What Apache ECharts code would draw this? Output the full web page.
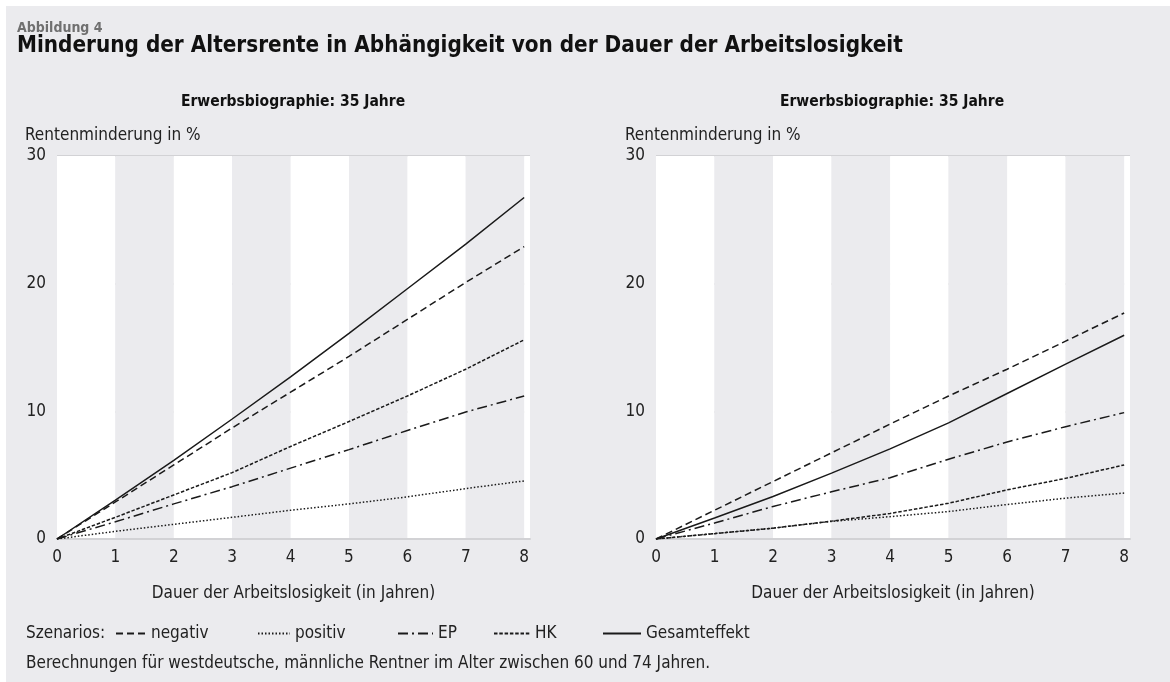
<!DOCTYPE html>
<html>
<head>
<meta charset="utf-8">
<script src="https://cdn.jsdelivr.net/npm/echarts@6/dist/echarts.min.js"></script>
<style>
  html, body { margin: 0; padding: 0; background: #fff; }
  #chart { width: 1170px; height: 682px; }
</style>
</head>
<body>
<div id="chart"></div>
<script>
// Dauer der Arbeitslosigkeit (Jahre)
const years = [0, 1, 2, 3, 4, 5, 6, 7, 8];
const xTicks = ['0', '1', '2', '3', '4', '5', '6', '7', '8'];
const yTicks = ['0', '10', '20', '30'];

// linkes Diagramm
const leftNegativ = [0, 2.9, 5.8, 8.7, 11.5, 14.3, 17.2, 20.1, 22.9];
const leftPositiv = [0, 0.6, 1.15, 1.7, 2.25, 2.75, 3.3, 3.95, 4.55];
const leftEP = [0, 1.35, 2.75, 4.1, 5.55, 7.0, 8.5, 9.95, 11.2];
const leftHK = [0, 1.7, 3.45, 5.2, 7.25, 9.2, 11.2, 13.3, 15.6];
const leftGesamt = [0, 3.05, 6.15, 9.4, 12.7, 16.1, 19.6, 23.1, 26.75];

// rechtes Diagramm
const rightNegativ = [0, 2.25, 4.5, 6.75, 9.0, 11.2, 13.3, 15.5, 17.7];
const rightPositiv = [0, 0.43, 0.85, 1.38, 1.75, 2.15, 2.7, 3.2, 3.6];
const rightEP = [0, 1.25, 2.55, 3.7, 4.8, 6.25, 7.6, 8.8, 9.9];
const rightHK = [0, 0.42, 0.85, 1.4, 2.0, 2.8, 3.85, 4.75, 5.8];
const rightGesamt = [0, 1.65, 3.33, 5.16, 7.06, 9.1, 11.4, 13.7, 15.96];

const FONT = "'Liberation Sans Narrow', 'DejaVu Sans Condensed', 'Roboto', sans-serif";
const INK = '#1a1a1a';
const TXT = '#222';
const BG = '#ebebee';

// Strichmuster je Szenario
const dashes = {
    negativ: [7, 4],
    positiv: [1.5, 2],
    EP: [10, 4, 2, 4],
    HK: [3.5, 1.8],
    Gesamteffekt: 'solid'
};

const pairs = (vals) => years.map((x, i) => [x, vals[i]]);

function makeSeries(name, vals, idx) {
    return {
        name: name,
        type: 'line',
        xAxisIndex: idx,
        yAxisIndex: idx,
        symbol: 'none',
        showSymbol: false,
        color: INK,
        lineStyle: { color: INK, width: 1.5, type: dashes[name] },
        data: pairs(vals)
    };
}

function xAxisCfg(idx) {
    return {
        type: 'value',
        gridIndex: idx,
        min: 0,
        max: 8.1,
        interval: 1,
        name: 'Dauer der Arbeitslosigkeit (in Jahren)',
        nameLocation: 'middle',
        nameGap: 46,
        nameTextStyle: { fontFamily: FONT, fontSize: 17, color: TXT },
        axisLine: { show: true, lineStyle: { color: '#d2d2d5', width: 2 } },
        axisTick: { show: false },
        axisLabel: {
            showMaxLabel: false,
            margin: 10,
            fontFamily: FONT, fontSize: 17, color: TXT,
            formatter: (v) => Number.isInteger(v) && xTicks[v] !== undefined ? xTicks[v] : ''
        },
        splitLine: { show: false },
        splitArea: { show: true, areaStyle: { color: ['#ffffff', BG] } }
    };
}

function yAxisCfg(idx) {
    return {
        type: 'value',
        gridIndex: idx,
        min: 0,
        max: 30,
        interval: 10,
        axisLine: { show: false },
        axisTick: { show: false },
        axisLabel: {
            margin: 11,
            fontFamily: FONT, fontSize: 17, color: TXT,
            formatter: (v) => yTicks[v / 10]
        },
        splitLine: { show: true, lineStyle: { color: '#d2d2d5', width: 2 } }
    };
}

// eine Legende je Szenario, damit die Abstände wie im Original sitzen
const legends = [
    { name: 'negativ', left: 115, w: 30 },
    { name: 'positiv', left: 257, w: 32 },
    { name: 'EP', left: 397, w: 35 },
    { name: 'HK', left: 493, w: 36 },
    { name: 'Gesamteffekt', left: 602, w: 38 }
].map((l) => ({
    left: l.left,
    top: 625,
    padding: 0,
    itemWidth: l.w,
    itemHeight: 14,
    selectedMode: false,
    itemStyle: { color: 'rgba(0,0,0,0)', borderWidth: 0, opacity: 0 },
    data: [l.name],
    textStyle: { fontFamily: FONT, fontSize: 17, color: TXT }
}));

const chart = echarts.init(document.getElementById('chart'), null, { renderer: 'canvas' });

const option = {
    backgroundColor: '#ffffff',
    animation: false,
    title: [
        {
            text: 'Abbildung 4',
            left: 17, top: 21, padding: 0,
            textStyle: { fontFamily: FONT, fontSize: 14, fontWeight: 'bold', color: '#707070' }
        },
        {
            text: 'Minderung der Altersrente in Abhängigkeit von der Dauer der Arbeitslosigkeit',
            left: 17, top: 35, padding: 0,
            textStyle: { fontFamily: FONT, fontSize: 22.3, fontWeight: 'bold', color: '#111' }
        },
        {
            text: 'Erwerbsbiographie: 35 Jahre',
            left: 293, top: 94, padding: 0, textAlign: 'center',
            textStyle: { fontFamily: FONT, fontSize: 15.5, fontWeight: 'bold', color: '#111' }
        },
        {
            text: 'Erwerbsbiographie: 35 Jahre',
            left: 892, top: 94, padding: 0, textAlign: 'center',
            textStyle: { fontFamily: FONT, fontSize: 15.5, fontWeight: 'bold', color: '#111' }
        },
        {
            text: 'Szenarios:',
            left: 26, top: 625, padding: 0,
            textStyle: { fontFamily: FONT, fontSize: 17, fontWeight: 'normal', color: TXT }
        },
        {
            text: 'Berechnungen für westdeutsche, männliche Rentner im Alter zwischen 60 und 74 Jahren.',
            left: 26, top: 655, padding: 0,
            textStyle: { fontFamily: FONT, fontSize: 17, fontWeight: 'normal', color: TXT }
        }
    ],
    graphic: [
        { type: 'rect', left: 6, top: 6, z: -10, shape: { width: 1164, height: 676 }, style: { fill: BG } },
        { type: 'text', left: 25, top: 127, style: { text: 'Rentenminderung in %', font: '17px ' + FONT, fill: TXT } },
        { type: 'text', left: 625, top: 127, style: { text: 'Rentenminderung in %', font: '17px ' + FONT, fill: TXT } }
    ],
    legend: legends,
    grid: [
        { left: 57, top: 156, width: 473, bottom: 143, containLabel: false },
        { left: 656, top: 156, width: 474, bottom: 143, containLabel: false }
    ],
    xAxis: [xAxisCfg(0), xAxisCfg(1)],
    yAxis: [yAxisCfg(0), yAxisCfg(1)],
    series: [
        makeSeries('negativ', leftNegativ, 0),
        makeSeries('positiv', leftPositiv, 0),
        makeSeries('EP', leftEP, 0),
        makeSeries('HK', leftHK, 0),
        makeSeries('Gesamteffekt', leftGesamt, 0),
        makeSeries('negativ', rightNegativ, 1),
        makeSeries('positiv', rightPositiv, 1),
        makeSeries('EP', rightEP, 1),
        makeSeries('HK', rightHK, 1),
        makeSeries('Gesamteffekt', rightGesamt, 1)
    ]
};

chart.setOption(option);
</script>
</body>
</html>
